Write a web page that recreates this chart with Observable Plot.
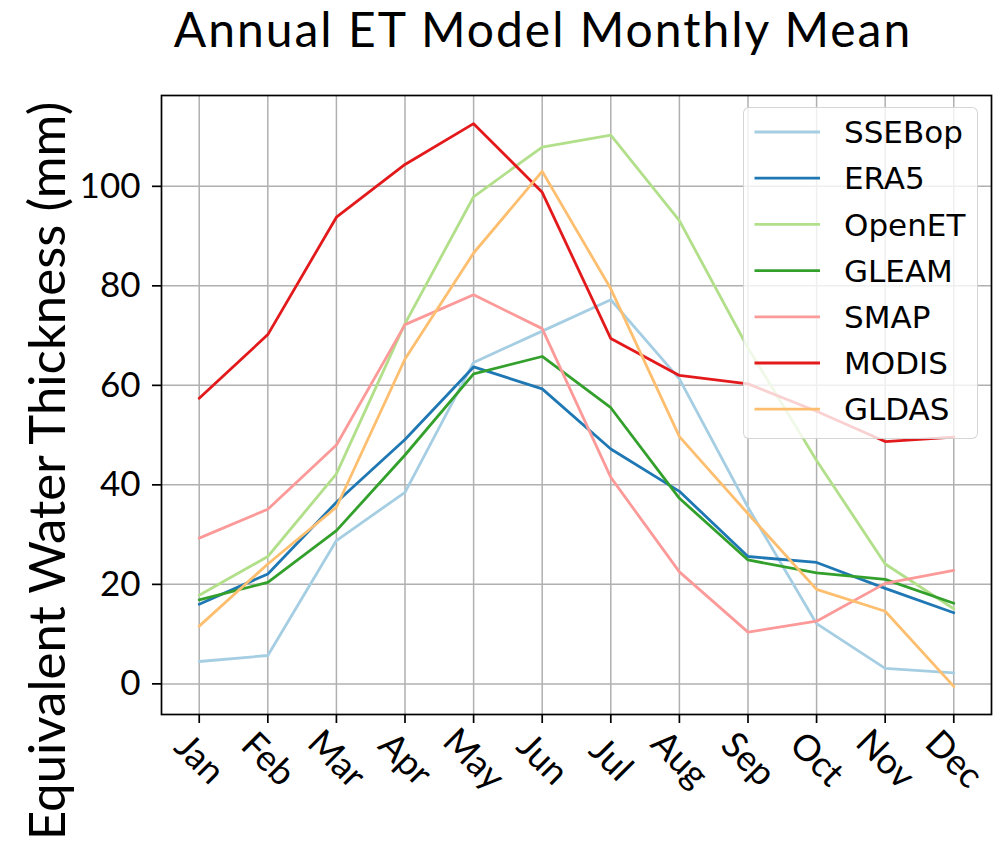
<!DOCTYPE html>
<html>
<head>
<meta charset="utf-8">
<script src="https://cdn.jsdelivr.net/npm/d3@7"></script>
<script src="https://cdn.jsdelivr.net/npm/@observablehq/plot@0.6"></script>
<style>
  html, body { margin: 0; padding: 0; background: #fff; }
  #wrap { position: relative; width: 1007px; height: 849px; overflow: hidden; }
  #title { height: 80px; width: 1007px; box-sizing: border-box; padding-left: 79px; text-align: center;
           font-family: "Lato", sans-serif; font-size: 48px; letter-spacing: 2px; line-height: 58px; padding-top: 0;
           color: #000; white-space: nowrap; }
  #legend { position: absolute; left: 742.7px; top: 107.3px; width: 235px; height: 332px; box-sizing: border-box;
            background: rgba(255,255,255,0.8); border: 1px solid rgba(204,204,204,0.8); border-radius: 6px; }
  #legend svg { position: absolute; left: 0; top: 0; }
</style>
</head>
<body>
<div id="wrap">
  <div id="title">Annual ET Model Monthly Mean</div>
  <div id="chart"></div>
  <div id="legend"></div>
</div>
<script>
const months = ["Jan","Feb","Mar","Apr","May","Jun","Jul","Aug","Sep","Oct","Nov","Dec"];
const seriesNames = ["SSEBop","ERA5","OpenET","GLEAM","SMAP","MODIS","GLDAS"];
const seriesColors = ["#a6cee3","#1f78b4","#b2df8a","#33a02c","#fb9a99","#e31a1c","#fdbf6f"];
const SSEBop = [4.5, 5.7, 28.8, 38.5, 64.6, 70.9, 77.2, 61.3, 35.5, 12.1, 3.1, 2.2];
const ERA5   = [16.0, 22.1, 36.5, 49.1, 63.7, 59.3, 47.2, 38.7, 25.6, 24.4, 19.2, 14.3];
const OpenET = [17.8, 25.6, 42.2, 72.4, 97.9, 107.9, 110.3, 93.1, 67.5, 44.9, 24.1, 15.1];
const GLEAM  = [16.9, 20.4, 30.8, 46.0, 62.3, 65.8, 55.5, 37.3, 24.9, 22.3, 21.0, 16.2];
const SMAP   = [29.3, 35.1, 48.0, 72.2, 78.2, 71.4, 41.5, 22.5, 10.4, 12.6, 20.2, 22.8];
const MODIS  = [57.4, 70.2, 93.8, 104.4, 112.6, 98.8, 69.4, 62.0, 60.3, 54.8, 48.7, 49.6];
const GLDAS  = [11.6, 24.1, 35.5, 65.3, 86.6, 103.0, 79.4, 49.7, 34.2, 19.0, 14.6, -0.5];
const yTicks = [0, 20, 40, 60, 80, 100];
const yLabel = "Equivalent Water Thickness (mm)";

const seriesValues = [SSEBop, ERA5, OpenET, GLEAM, SMAP, MODIS, GLDAS];
const data = seriesNames.flatMap((name, s) =>
  seriesValues[s].map((v, i) => ({series: name, month: i, value: v})));

const allVals = seriesValues.flat();
const vmin = d3.min(allVals), vmax = d3.max(allVals);
const pad = (vmax - vmin) * 0.05;
const monthIdx = d3.range(months.length);

const chart = Plot.plot({
  width: 1007,
  height: 769,
  marginTop: 15,
  marginBottom: 135,
  marginLeft: 161,
  marginRight: 16,
  style: {fontFamily: "Lato, sans-serif", color: "#000", background: "transparent", overflow: "visible"},
  x: {type: "linear", domain: [-0.55, months.length - 1 + 0.55]},
  y: {domain: [vmin - pad, vmax + pad]},
  color: {domain: seriesNames, range: seriesColors},
  marks: [
    Plot.gridX(monthIdx, {stroke: "#b0b0b0", strokeOpacity: 1, strokeWidth: 1.5}),
    Plot.gridY(yTicks, {stroke: "#b0b0b0", strokeOpacity: 1, strokeWidth: 1.5}),
    Plot.lineY(data, {x: "month", y: "value", stroke: "series", strokeWidth: 2.8}),
    Plot.frame({stroke: "#000", strokeWidth: 1.7}),
    Plot.axisX(monthIdx, {tickFormat: i => months[i], tickSize: 9, tickPadding: 36, tickRotate: 45,
      textAnchor: "middle", lineAnchor: "middle", fontSize: 36, label: null, strokeWidth: 1.7}),
    Plot.axisY(yTicks, {tickSize: 9, tickPadding: 12, fontSize: 35, label: null, strokeWidth: 1.7}),
    Plot.text([yLabel], {frameAnchor: "left", textAnchor: "middle", lineAnchor: "middle", rotate: -90,
      dx: -113, dy: 66, fontSize: 51, text: d => d, fill: "#000"})
  ]
});
document.getElementById("chart").appendChild(chart);

// Legend
const lg = d3.select("#legend").append("svg").attr("width", 235).attr("height", 332);
seriesNames.forEach((name, i) => {
  const cy = 24 + i * 46.2;
  lg.append("line").attr("x1", 10.5).attr("x2", 76).attr("y1", cy).attr("y2", cy)
    .attr("stroke", seriesColors[i]).attr("stroke-width", 2.8);
  lg.append("text").attr("x", 100).attr("y", cy).attr("dy", "0.36em")
    .attr("font-family", "DejaVu Sans").attr("font-size", 31).attr("fill", "#000").text(name);
});
</script>
</body>
</html>
